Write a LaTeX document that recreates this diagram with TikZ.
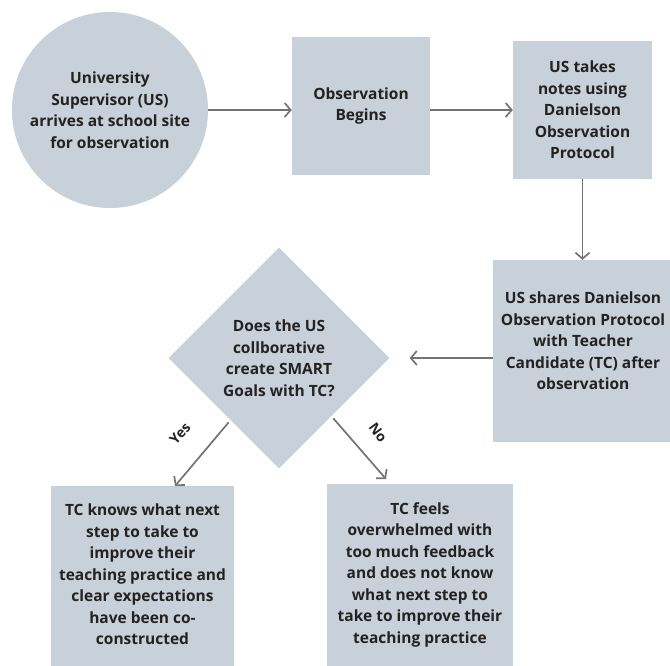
\documentclass[tikz,border=0pt]{standalone}
\usepackage{fontspec}
\setmainfont{Open Sans}
\usepackage{xcolor}
\definecolor{boxfill}{HTML}{C8D0D9}
\definecolor{arrowgrey}{HTML}{737373}
\definecolor{textdark}{HTML}{222222}
\usepackage{tikz}
\usetikzlibrary{shapes.geometric,arrows.meta,positioning,calc}

\begin{document}
\begin{tikzpicture}[x=1pt,y=-1pt,
    box/.style={fill=boxfill, text=textdark, font=\bfseries\fontsize{15.5}{21.5}\selectfont, align=center, inner sep=0pt},
    flow/.style={draw=arrowgrey, line width=1.7pt, -{Straight Barb[length=6pt,width=14pt]}},
    branch/.style={font=\bfseries\fontsize{14}{16}\selectfont, text=textdark}]
  \clip (0,0) rectangle (670,666);
  % top row
  \node[box, circle, minimum size=196pt] (arrive) at (110,110) {University\\Supervisor (US)\\arrives at school site\\for observation};
  \node[box, minimum width=138pt, minimum height=138pt] (begins) at (361,106) {Observation\\Begins};
  \node[box, minimum width=139pt, minimum height=138pt] (notes) at (582.5,110) {US takes\\notes using\\Danielson\\Observation\\Protocol};
  % middle row
  \node[box, minimum width=180pt, minimum height=182pt, text depth=20pt] (shares) at (583,351) {US shares Danielson\\Observation Protocol\\with Teacher\\Candidate (TC) after\\observation};
  \node[box, diamond, minimum size=221pt] (goals) at (279,358) {Does the US\\collborative\\create SMART\\Goals with TC?};
  % bottom row
  \node[box, anchor=north, minimum width=183pt, inner ysep=18pt, text depth=16pt] (knows) at (142.5,486) {TC knows what next\\step to take to\\improve their\\teaching practice and\\clear expectations\\have been co-\\constructed};
  \node[box, anchor=north, minimum width=186pt, inner ysep=18pt, text depth=16pt] (overwhelmed) at (420,484) {TC feels\\overwhelmed with\\too much feedback\\and does not know\\what next step to\\take to improve their\\teaching practice};
  % connectors
  \draw[flow] (arrive.east) -- (arrive.east -| begins.west);
  \draw[flow] (begins.east |- notes.west) -- (notes.west);
  \draw[flow] (notes.south) -- (notes.south |- shares.north);
  \draw[flow] (shares.west |- goals.east) -- ([xshift=20pt]goals.east);
  \draw[flow] ([shift={(5,9)}]goals.south west) -- ([xshift=32.5pt]knows.north);
  \draw[flow] ([shift={(-1,5)}]goals.south east) -- ([shift={(-34,-5)}]overwhelmed.north);
  \node[branch, rotate=48] (yes) at (180,434) {Yes};
  \node[branch, rotate=-54] (no) at (378,433) {No};
\end{tikzpicture}
\end{document}
